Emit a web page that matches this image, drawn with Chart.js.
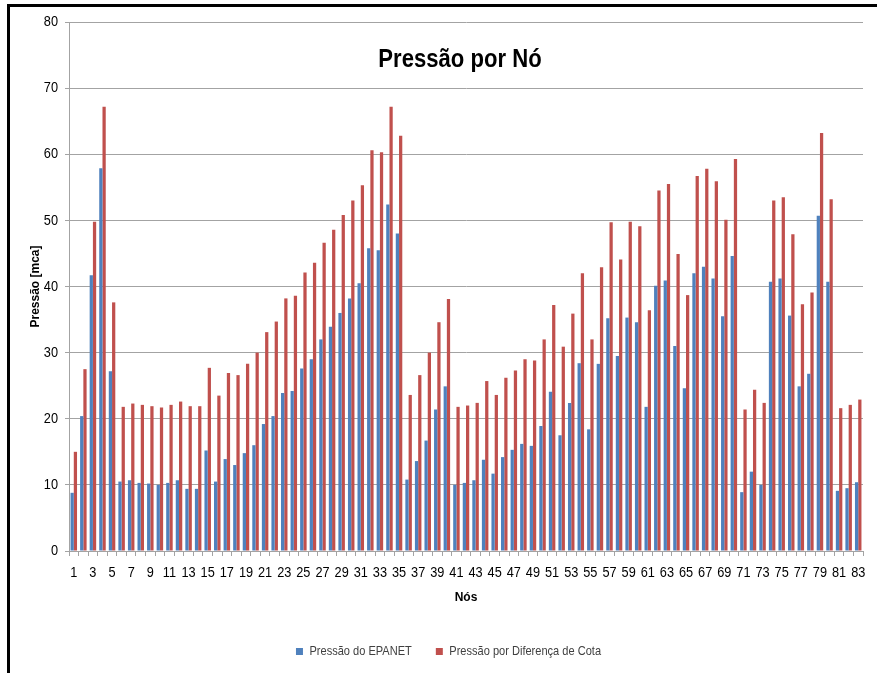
<!DOCTYPE html>
<html>
<head>
<meta charset="utf-8">
<script src="https://cdn.jsdelivr.net/npm/chart.js@4/dist/chart.umd.min.js"></script>
<style>
  html, body { margin: 0; padding: 0; background: #fff; }
  #wrap { position: relative; width: 877px; height: 673px; overflow: hidden; }
  #chart { position: absolute; left: 0; top: 0; }
  .frame-top { position: absolute; left: 7px; top: 4px; width: 870px; height: 3px; background: #000; }
  .frame-left { position: absolute; left: 7px; top: 4px; width: 3px; height: 669px; background: #000; }
</style>
</head>
<body>
<div id="wrap">
  <canvas id="chart" width="877" height="673"></canvas>
  <div class="frame-top"></div>
  <div class="frame-left"></div>
</div>
<script>
// Nós da rede
const nodes = Array.from({ length: 83 }, (_, i) => String(i + 1));

// Pressão calculada pelo EPANET (mca)
const pressaoEpanet = [
  8.8, 20.4, 41.7, 57.9, 27.2, 10.5, 10.7, 10.3, 10.2, 10.0,
  10.3, 10.7, 9.4, 9.4, 15.2, 10.5, 13.9, 13.0, 14.8, 16.0,
  19.2, 20.4, 23.9, 24.2, 27.6, 29.0, 32.0, 33.9, 36.0, 38.2,
  40.5, 45.8, 45.5, 52.4, 48.0, 10.8, 13.6, 16.7, 21.4, 24.9,
  10.0, 10.3, 10.7, 13.8, 11.7, 14.2, 15.3, 16.2, 15.9, 18.9,
  24.1, 17.5, 22.4, 28.4, 18.4, 28.3, 35.2, 29.5, 35.3, 34.6,
  21.8, 40.1, 40.9, 31.0, 24.6, 42.0, 43.0, 41.2, 35.5, 44.6,
  8.9, 12.0, 10.0, 40.7, 41.2, 35.6, 24.9, 26.8, 50.7, 40.7,
  9.1, 9.5, 10.4
];

// Pressão estática pela diferença de cota (mca)
const pressaoCota = [
  15.0, 27.5, 49.8, 67.2, 37.6, 21.8, 22.3, 22.1, 21.9, 21.7,
  22.1, 22.6, 21.9, 21.9, 27.7, 23.5, 26.9, 26.6, 28.3, 30.0,
  33.1, 34.7, 38.2, 38.6, 42.1, 43.6, 46.6, 48.6, 50.8, 53.0,
  55.3, 60.6, 60.3, 67.2, 62.8, 23.6, 26.6, 30.0, 34.6, 38.1,
  21.8, 22.0, 22.4, 25.7, 23.6, 26.2, 27.3, 29.0, 28.8, 32.0,
  37.2, 30.9, 35.9, 42.0, 32.0, 42.9, 49.7, 44.1, 49.8, 49.1,
  36.4, 54.5, 55.5, 44.9, 38.7, 56.7, 57.8, 55.9, 50.1, 59.3,
  21.4, 24.4, 22.4, 53.0, 53.5, 47.9, 37.3, 39.1, 63.2, 53.2,
  21.6, 22.1, 22.9
];

const yTicks = [0, 10, 20, 30, 40, 50, 60, 70, 80];

const NARROW = "'Liberation Sans Narrow', 'Liberation Sans', Arial, sans-serif";
const WIDE = "'Liberation Sans', Arial, sans-serif";
const GRID = '#a3a3a3';

const canvas = document.getElementById('chart');
const ctx2d = canvas.getContext('2d');

// Sem a fonte estreita instalada, comprime horizontalmente os textos que a pedem
function narrowMissing() {
  ctx2d.save();
  ctx2d.font = "20px 'Liberation Sans Narrow', monospace";
  const a = ctx2d.measureText('Pressão 0123').width;
  ctx2d.font = "20px monospace";
  const b = ctx2d.measureText('Pressão 0123').width;
  ctx2d.restore();
  return a === b;
}
const squeeze = narrowMissing() ? 0.85 : 1;
const origFill = ctx2d.fillText.bind(ctx2d);
const origMeasure = ctx2d.measureText.bind(ctx2d);
ctx2d.fillText = function (text, x, y, maxWidth) {
  if (squeeze !== 1 && this.font.includes('Narrow')) {
    this.save();
    this.translate(x, y);
    this.scale(squeeze, 1);
    origFill(text, 0, 0);
    this.restore();
  } else if (maxWidth === undefined) {
    origFill(text, x, y);
  } else {
    origFill(text, x, y, maxWidth);
  }
};
ctx2d.measureText = function (text) {
  const m = origMeasure(text);
  if (squeeze !== 1 && this.font.includes('Narrow')) {
    return {
      width: m.width * squeeze,
      actualBoundingBoxAscent: m.actualBoundingBoxAscent,
      actualBoundingBoxDescent: m.actualBoundingBoxDescent,
      actualBoundingBoxLeft: m.actualBoundingBoxLeft * squeeze,
      actualBoundingBoxRight: m.actualBoundingBoxRight * squeeze
    };
  }
  return m;
};

// Título desenhado dentro da área do gráfico
const innerTitle = {
  id: 'innerTitle',
  afterDraw(chart) {
    const { ctx, chartArea } = chart;
    ctx.save();
    ctx.font = "bold 26px " + NARROW;
    ctx.fillStyle = '#000';
    ctx.textAlign = 'center';
    ctx.textBaseline = 'alphabetic';
    ctx.fillText('Pressão por Nó', 460, chartArea.top + 45);
    ctx.restore();
  }
};

// Desloca a legenda um pouco para a direita
const legendShift = {
  id: 'legendShift',
  afterLayout(chart) {
    if (chart.legend) {
      chart.legend.left += 17;
      chart.legend.right += 17;
    }
  }
};

new Chart(ctx2d, {
  type: 'bar',
  data: {
    labels: nodes,
    datasets: [
      { label: 'Pressão do EPANET', data: pressaoEpanet, backgroundColor: '#4F81BD' },
      { label: 'Pressão por Diferença de Cota', data: pressaoCota, backgroundColor: '#C0504D' }
    ]
  },
  options: {
    responsive: false,
    animation: false,
    devicePixelRatio: 1,
    layout: { padding: { left: 0, top: 22, right: 14, bottom: 5 } },
    datasets: { bar: { categoryPercentage: 0.68, barPercentage: 1.0 } },
    plugins: {
      title: { display: false },
      tooltip: { enabled: false },
      legend: {
        position: 'bottom',
        labels: {
          boxWidth: 7, boxHeight: 7, padding: 24,
          color: '#404040',
          font: { family: NARROW, size: 13 }
        }
      }
    },
    scales: {
      x: {
        afterFit: s => { s.height = 70; },
        grid: { offset: true, drawOnChartArea: false, color: GRID, tickLength: 5 },
        border: { color: GRID },
        ticks: {
          autoSkip: false, maxRotation: 0, minRotation: 0, padding: 8,
          color: '#000', font: { family: NARROW, size: 15 },
          callback: (v, i) => (i % 2 === 0 ? nodes[i] : '')
        },
        title: {
          display: true, text: 'Nós', color: '#000',
          font: { family: WIDE, size: 12, weight: 'bold' },
          padding: { top: 0, bottom: 16 }
        }
      },
      y: {
        min: 0, max: 80,
        afterFit: s => { s.width = 69; },
        afterBuildTicks: s => { s.ticks = yTicks.map(v => ({ value: v })); },
        grid: { color: GRID, tickLength: 4 },
        border: { color: GRID },
        ticks: { padding: 7, color: '#000', font: { family: NARROW, size: 15 } },
        title: {
          display: true, text: 'Pressão [mca]', color: '#000',
          font: { family: WIDE, size: 12, weight: 'bold' },
          padding: { top: 28, bottom: 0 }
        }
      }
    }
  },
  plugins: [innerTitle, legendShift]
});
</script>
</body>
</html>
